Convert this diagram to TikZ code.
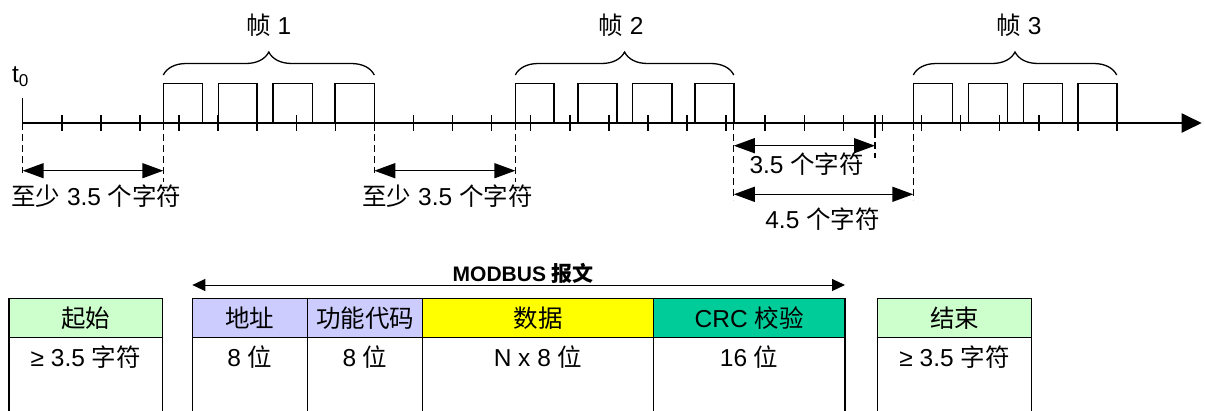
\documentclass[tikz,border=0pt]{standalone}
\usepackage{fontspec}
\setmainfont{Liberation Sans}
\newfontfamily\cjk{Noto Sans CJK SC}
\usetikzlibrary{arrows.meta,decorations.pathreplacing,positioning}
\newcommand{\zh}[1]{{\cjk #1}}
\definecolor{startgreen}{HTML}{CCFFCC}
\definecolor{addrblue}{HTML}{CCCCFF}
\definecolor{datayellow}{HTML}{FFFF00}
\definecolor{crcgreen}{HTML}{00CC99}
\tikzset{
  txt/.style={font=\fontsize{24.5}{28}\selectfont, inner sep=0pt},
  tick/.style={line width=1.5pt},
  pulse/.style={line width=1.6pt},
  dashline/.style={line width=1.3pt, dash pattern=on 7pt off 4pt},
  dimarrow/.style={line width=1.5pt, {Triangle[length=21pt,width=15pt]}-{Triangle[length=21pt,width=15pt]}},
  msgarrow/.style={line width=1pt, {Triangle[length=13pt,width=12pt]}-{Triangle[length=13pt,width=12pt]}},
  frbrace/.style={decorate, decoration={brace, amplitude=23pt}, line width=1.3pt},
  hdr/.style={draw, line width=1.5pt, minimum height=39pt, inner sep=0pt, outer sep=0pt, font=\fontsize{24.5}{28}\selectfont},
  tablerule/.style={line width=1.5pt}
}
\begin{document}
\begin{tikzpicture}[x=1pt,y=-1pt]
\useasboundingbox (0,0) rectangle (1205,410);

% time axis
\coordinate (t0) at (22.7,123);
\coordinate (f1s) at (163.3,123);
\coordinate (f1e) at (374.3,123);
\coordinate (f2s) at (515.3,123);
\coordinate (f2e) at (733.8,123);
\coordinate (mk) at (875,123);
\coordinate (f3s) at (913.3,123);
\coordinate (f3e) at (1116.7,123);
\coordinate (tend) at (1201.7,123);

\draw[line width=2pt, -{Triangle[length=20pt,width=19pt]}] (t0) -- (tend);
\draw[tick] (t0) -- ++(0,-24.7);
\node[txt] (t0lbl) at (20.5,77) {t\textsubscript{0}};

\foreach \k in {1,...,28}
  \draw[tick] ({22.7+39.08*\k},115) -- ({22.7+39.08*\k},131);
\draw[tick] (875,115) -- (875,131);

% frames
\foreach \a/\b in {163.3/202.3, 218.3/257, 272.7/312.3, 335/374.3,
                   515.3/554, 577.7/616.7, 632.3/671.7, 694.7/733.8,
                   913.3/952.3, 968.3/1007.3, 1023.3/1062.3, 1077.7/1116.7}
  \draw[pulse] (\a,123) |- (\b,83.3) -- (\b,123);

\draw[frbrace] (163.3,75) -- (374.3,75);
\draw[frbrace] (515.3,75) -- (733.8,75);
\draw[frbrace] (913.3,75) -- (1116.7,75);
\node[txt] (fr1) at (268.8,25.5) {\zh{帧} 1};
\node[txt] (fr2) at (621,25.5) {\zh{帧} 2};
\node[txt] (fr3) at (1019,25.5) {\zh{帧} 3};

% gaps
\draw[dashline] (t0) -- ++(0,50);
\draw[dashline] (f1s) -- ++(0,59);
\draw[dashline] (f1e) -- ++(0,50);
\draw[dashline] (f2s) -- ++(0,59);
\draw[dashline] (f2e) -- ++(0,77);
\draw[dashline] (875,131) -- (875,158);
\draw[dashline] (f3s) -- ++(0,77);

\coordinate (rowA) at (0,170.7);
\coordinate (rowB) at (0,145.7);
\coordinate (rowC) at (0,194.3);
\draw[dimarrow] (t0 |- rowA) -- (f1s |- rowA);
\draw[dimarrow] (f1e |- rowA) -- (f2s |- rowA);
\draw[dimarrow] (f2e |- rowB) -- (mk |- rowB);
\draw[dimarrow] (f2e |- rowC) -- (f3s |- rowC);

\node[txt] (gap1) at (96.3,196) {\zh{至少} 3.5 \zh{个字符}};
\node[txt] (gap2) at (447.5,196) {\zh{至少} 3.5 \zh{个字符}};
\node[txt] (gap3) at (806.7,164.5) {3.5 \zh{个字符}};
\node[txt] (gap4) at (822.5,219) {4.5 \zh{个字符}};

% message table
\node[hdr, fill=startgreen, minimum width=153.7pt] (start) at (85.8,317.8) {\zh{起始}};
\node[hdr, fill=addrblue, minimum width=115pt] (addr) at (249.8,317.8) {\zh{地址}};
\node[hdr, fill=addrblue, minimum width=115.4pt, right=0pt of addr] (func) {\zh{功能代码}};
\node[hdr, fill=datayellow, minimum width=230.6pt, right=0pt of func] (data) {\zh{数据}};
\node[hdr, fill=crcgreen, minimum width=191.7pt, right=0pt of data] (crc) {CRC \zh{校验}};
\node[hdr, fill=startgreen, minimum width=154.4pt] (stop) at (954.5,317.8) {\zh{结束}};

\foreach \c in {start,addr,func,data,crc,stop} {
  \draw[tablerule] (\c.south west) -- ++(0,75);
  \draw[tablerule] (\c.south east) -- ++(0,75);
}

\coordinate (vrow) at (0,357.5);
\node[txt] (startv) at (start.south |- vrow) {≥ 3.5 \zh{字符}};
\node[txt] (addrv) at (addr.south |- vrow) {8 \zh{位}};
\node[txt] (funcv) at (func.south |- vrow) {8 \zh{位}};
\node[txt] (datav) at (data.south |- vrow) {N x 8 \zh{位}};
\node[txt] (crcv) at (crc.south |- vrow) {16 \zh{位}};
\node[txt] (stopv) at (stop.south |- vrow) {≥ 3.5 \zh{字符}};

\coordinate (mrow) at (0,285);
\draw[msgarrow] (addr.north west |- mrow) -- (crc.north east |- mrow);
\node[inner sep=0pt, font=\fontsize{21}{25}\selectfont\bfseries] (msg) at (523.3,273) {MODBUS \zh{报文}};
\end{tikzpicture}
\end{document}
